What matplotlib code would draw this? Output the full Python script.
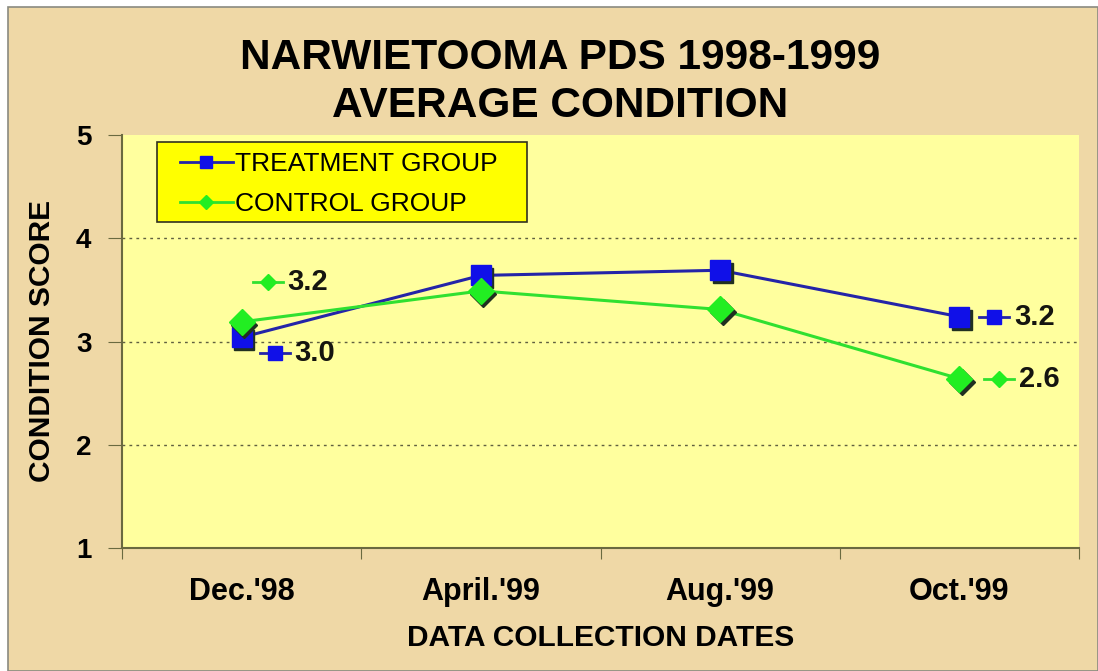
import matplotlib
matplotlib.use("Agg")
import matplotlib.pyplot as plt
from matplotlib.lines import Line2D
from matplotlib.patches import Rectangle
import matplotlib.transforms as mtransforms

plt.rcParams['font.family'] = ['Liberation Sans', 'DejaVu Sans']

categories = ["Dec.'98", "April.'99", "Aug.'99", "Oct.'99"]
treatment = [3.04, 3.64, 3.69, 3.24]
control = [3.19, 3.49, 3.31, 2.64]
series_names = ["TREATMENT GROUP", "CONTROL GROUP"]
title_lines = ["NARWIETOOMA PDS 1998-1999", "AVERAGE CONDITION"]
y_ticks = [1, 2, 3, 4, 5]
# value labels: (series index, category index, text)
value_labels = [(1, 0, "3.2"), (0, 0, "3.0"), (0, 3, "3.2"), (1, 3, "2.6")]

W, H = 1098, 671
fig = plt.figure(figsize=(W / 100, H / 100), dpi=100, facecolor="white")

# tan frame
fig.patches.append(Rectangle((8 / W, 0), 1 - 8 / W, 1 - 7 / H, transform=fig.transFigure,
                             facecolor="#EFD8A6", edgecolor="#8a8a80", linewidth=1.2, zorder=-10))

AX_L, AX_R, AX_T, AX_B = 122, 1079, 135, 548
ax = fig.add_axes([AX_L / W, 1 - AX_B / H, (AX_R - AX_L) / W, (AX_B - AX_T) / H])
ax.set_facecolor("#FFFF9E")

def ax_frac(px, py):
    return ((px - AX_L) / (AX_R - AX_L), (AX_B - py) / (AX_B - AX_T))

xs = list(range(len(categories)))
blue = "#1010E8"
green = "#22EE22"
blue_line = "#2424A8"
green_line = "#30E030"
shadow = "#203020"

def draw_series(vals, color, marker, ms, linecolor, z):
    sh = mtransforms.offset_copy(ax.transData, fig=fig, x=2.5, y=-3, units='dots')
    ax.plot(xs, vals, linestyle='none', marker=marker, markersize=ms, color=shadow,
            markeredgecolor=shadow, transform=sh, zorder=z)
    ax.plot(xs, vals, color=linecolor, linewidth=2.2, zorder=z - 1)
    ax.plot(xs, vals, linestyle='none', marker=marker, markersize=ms, color=color,
            markeredgecolor=color, zorder=z + 0.5)

draw_series(treatment, blue, 's', 15, blue_line, 4)
draw_series(control, green, 'D', 13, green_line, 6)

ax.set_xlim(-0.5, 3.5)
ax.set_ylim(1, 5)

# gridlines
for y in [2, 3, 4]:
    ax.axhline(y, color="#606040", linestyle=(0, (2, 3)), linewidth=1.0, zorder=1)

ax.set_yticks(y_ticks)
ax.set_yticklabels([str(t) for t in y_ticks], fontsize=20, fontweight='bold')
ax.set_xticks([-0.5, 0.5, 1.5, 2.5, 3.5])
ax.set_xticklabels([])
ax.set_xticks(xs, minor=True)
ax.set_xticklabels(categories, minor=True, fontsize=22, fontweight='bold')
ax.tick_params(axis='x', which='minor', length=0, pad=21)
ax.tick_params(axis='x', which='major', length=8, color="#6a6a40", direction='out')
ax.tick_params(axis='y', length=10, color="#6a6a40", direction='out', pad=12)

for s in ['top', 'right']:
    ax.spines[s].set_visible(False)
for s in ['left', 'bottom']:
    ax.spines[s].set_color("#6a6a40")
    ax.spines[s].set_linewidth(1.5)

ax.set_xlabel("DATA COLLECTION DATES", fontsize=21.5, fontweight='bold', labelpad=12)
ax.set_ylabel("CONDITION SCORE", fontsize=21.5, fontweight='bold', labelpad=14)

# title
fig.text(560 / W, 1 - 58 / H, title_lines[0], ha='center', va='center', fontsize=30.5, fontweight='bold')
fig.text(560 / W, 1 - 106 / H, title_lines[1], ha='center', va='center', fontsize=30.5, fontweight='bold')

# legend box (drawn explicitly) and legend entries
bx0, by0 = ax_frac(157, 222)
bx1, by1 = ax_frac(527, 142)
ax.add_patch(Rectangle((bx0, by0), bx1 - bx0, by1 - by0, transform=ax.transAxes,
                       facecolor="#FFFF00", edgecolor="#303020", linewidth=1.2, zorder=9))
handles = [Line2D([], [], color=blue_line, marker='s', markersize=9, markerfacecolor=blue,
                  markeredgecolor=blue, linewidth=2),
           Line2D([], [], color=green_line, marker='D', markersize=7, markerfacecolor=green,
                  markeredgecolor=green, linewidth=2)]
lx, ly = ax_frac(180, 184)
leg = ax.legend(handles, series_names, loc='center left', bbox_to_anchor=(lx, ly),
                borderaxespad=0, borderpad=0, fontsize=19, frameon=False,
                handlelength=2.0, handletextpad=0.1, labelspacing=0.62)
leg.set_zorder(10)

# value labels with legend-key style markers
offsets = {(1, 0): (26, 40), (0, 0): (33, -16), (0, 3): (35, 0), (1, 3): (40, 0)}
for si, ci, txt in value_labels:
    vals = treatment if si == 0 else control
    dx, dy = offsets[(si, ci)]
    tr = mtransforms.offset_copy(ax.transData, fig=fig, x=dx, y=dy, units='dots')
    col = blue if si == 0 else green
    lcol = blue_line if si == 0 else green_line
    mk = 's' if si == 0 else 'D'
    ms = 10 if si == 0 else 8
    seg = mtransforms.offset_copy(ax.transData, fig=fig, x=dx - 15, y=dy, units='dots')
    seg2 = mtransforms.offset_copy(ax.transData, fig=fig, x=dx + 15, y=dy, units='dots')
    x0, y0 = seg.transform((ci, vals[ci]))
    x1, y1 = seg2.transform((ci, vals[ci]))
    ax.add_line(Line2D([x0, x1], [y0, y1], transform=None, color=lcol, linewidth=2, zorder=7))
    ax.plot([ci], [vals[ci]], marker=mk, markersize=ms, color=col, transform=tr, zorder=8)
    trt = mtransforms.offset_copy(ax.transData, fig=fig, x=dx + 20, y=dy, units='dots')
    ax.text(ci, vals[ci], txt, transform=trt, ha='left', va='center', fontsize=21,
            fontweight='bold', color="#151510", zorder=9)

fig.savefig("out.png", dpi=100, facecolor=fig.get_facecolor())
